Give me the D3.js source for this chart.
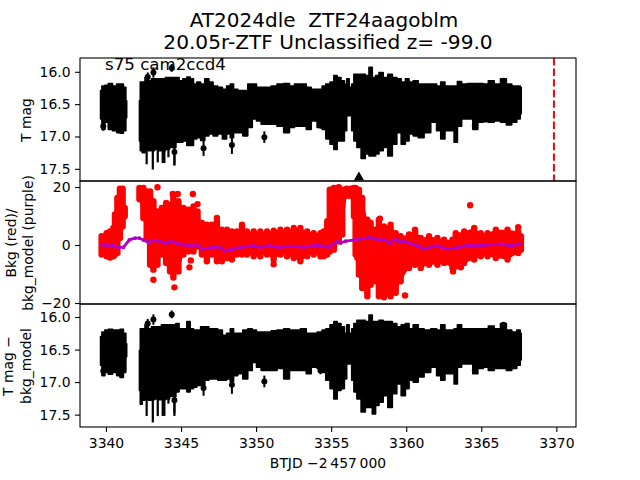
<!DOCTYPE html>
<html><head><meta charset="utf-8">
<script src="https://cdn.jsdelivr.net/npm/d3@7"></script>
<style>html,body{margin:0;padding:0;background:#fff}svg{display:block}text{font-family:"DejaVu Sans",sans-serif;fill:#000;white-space:pre}</style>
</head><body><div id="c"></div>
<script>
// Black band: T mag envelope against BTJD - 2457000
const timeBand = [
3339.64,3339.82,3340.04,3340.27,3340.60,3340.82,3341.05,3341.27,3341.38,
3342.23,3342.34,3342.49,3342.71,3342.94,3343.12,3343.34,3343.56,3343.83,3344.09,
3344.38,3344.56,3344.76,3344.98,3345.27,3345.50,3345.72,3345.94,3346.16,3346.45,
3346.72,3346.99,3347.28,3347.61,3347.90,3348.17,3348.39,3348.61,3348.95,3349.28,
3349.61,3349.88,3350.17,3350.50,3350.84,3351.17,3351.62,3352.06,3352.39,3352.73,
3353.17,3353.51,3353.84,3354.29,3354.51,3354.78,3355.07,3355.29,3355.51,3355.80,
3355.96,3356.11,3356.29,3356.45,3356.58,3356.85,3357.14,3357.41,3357.63,3357.85,
3358.07,3358.30,3358.63,3358.92,3359.23,3359.52,3359.81,3360.08,3360.30,3360.63,
3360.97,3361.41,3361.86,3362.19,3362.41,3362.75,3363.08,3363.30,3363.52,3363.86,
3364.30,3364.57,3364.97,3365.30,3365.64,3366.08,3366.48,3366.86,3367.20,3367.53,3367.66];
const magTop = [
16.29,16.22,16.21,16.18,16.22,16.19,16.19,16.24,16.45,
16.45,16.16,16.16,16.09,16.14,16.11,16.11,16.11,16.11,16.09,
16.09,16.09,16.09,16.14,16.11,16.08,16.11,16.19,16.16,16.19,
16.11,16.16,16.22,16.24,16.27,16.22,16.19,16.27,16.29,16.29,
16.19,16.19,16.24,16.24,16.24,16.22,16.19,16.18,16.22,16.19,
16.19,16.24,16.27,16.27,16.22,16.19,16.16,16.06,16.09,16.14,
16.19,16.11,16.24,16.19,16.04,16.04,16.04,16.06,15.93,16.09,
16.06,16.01,16.09,16.04,16.09,16.11,16.16,16.11,16.16,16.14,
16.19,16.19,16.19,16.22,16.16,16.22,16.22,16.22,16.15,16.19,
16.18,16.18,16.18,16.19,16.14,16.19,16.11,16.19,16.22,16.22,16.24];
const magBottom = [
16.73,16.89,16.78,16.89,16.91,16.94,16.95,16.91,16.71,
17.07,17.22,17.25,17.20,17.22,17.22,17.20,17.22,17.22,17.20,
17.17,17.17,17.09,17.09,17.07,17.14,17.14,17.04,17.02,17.06,
16.99,16.96,16.99,16.96,17.04,16.96,17.02,16.94,16.94,16.99,
16.86,16.73,16.76,16.81,16.81,16.81,16.84,16.94,16.86,16.84,
16.84,16.89,16.76,16.86,16.89,17.04,17.12,17.20,17.07,17.07,
16.91,16.68,16.68,16.91,17.07,17.17,17.34,17.27,17.30,17.30,
17.27,17.22,17.17,17.30,17.12,16.94,17.12,17.07,16.96,16.99,
17.02,16.94,16.78,16.91,17.04,16.91,16.91,17.09,16.84,16.73,
16.73,16.89,16.78,16.77,16.78,16.76,16.78,16.82,16.78,16.73,16.65];
const corrTop = [
16.30,16.23,16.20,16.19,16.20,16.20,16.19,16.25,16.41,
16.51,16.18,16.18,16.12,16.18,16.15,16.15,16.15,16.12,16.12,
16.12,16.12,16.10,16.18,16.18,16.07,16.18,16.20,16.20,16.15,
16.15,16.18,16.18,16.20,16.28,16.25,16.18,16.25,16.25,16.20,
16.18,16.20,16.23,16.23,16.23,16.21,16.20,16.18,16.20,16.20,
16.18,16.25,16.25,16.23,16.20,16.18,16.12,16.07,16.10,16.15,
16.25,16.12,16.25,16.18,16.10,16.05,16.05,16.07,15.97,16.07,
16.07,16.05,16.07,16.07,16.10,16.15,16.12,16.10,16.18,16.12,
16.18,16.20,16.18,16.20,16.12,16.20,16.20,16.18,16.12,16.18,
16.18,16.18,16.18,16.18,16.14,16.18,16.10,16.20,16.23,16.20,16.25];
const corrBottom = [
16.74,16.90,16.85,16.88,16.85,16.90,16.93,16.85,16.61,
17.13,17.34,17.28,17.26,17.28,17.27,17.26,17.27,17.27,17.26,
17.22,17.22,17.15,17.10,17.10,17.15,17.10,17.08,17.05,17.05,
16.97,16.95,16.95,16.97,16.97,16.95,16.99,16.90,16.87,16.95,
16.82,16.70,16.77,16.82,16.82,16.82,16.79,16.95,16.82,16.82,
16.82,16.87,16.77,16.79,16.85,16.97,17.10,17.26,17.13,17.10,
16.95,16.72,16.72,16.97,17.15,17.26,17.46,17.39,17.39,17.49,
17.36,17.31,17.21,17.39,17.18,17.03,17.21,17.10,16.97,17.00,
16.92,16.85,16.77,16.90,16.97,16.87,16.87,17.03,16.77,16.72,
16.72,16.87,16.79,16.77,16.82,16.79,16.79,16.82,16.79,16.74,16.66];

// Long faint-point error-bar spikes dropping below the band
const spikeTime = [3342.71,3343.12,3343.45,3343.78,3343.89,3344.16,3344.56];
const spikeMag  = [17.43,17.51,17.40,17.41,17.41,17.32,17.45];
const spikeCorr = [17.52,17.62,17.52,17.52,17.52,17.33,17.52];

// Isolated points with error bars
const outlierTime = [3339.82,3342.78,3343.16,3344.38,3344.56,3346.50,3348.39,3350.55,3354.29,3364.57,3366.48];
const outlierMag  = [16.84,16.08,16.01,15.94,17.24,17.18,17.13,17.01,16.82,16.83,16.14];
const outlierCorr = [16.83,16.10,16.04,15.96,17.28,17.09,17.04,16.99,16.82,16.82,16.12];
const outlierErr  = [0.07,0.07,0.08,0.06,0.20,0.12,0.14,0.09,0.06,0.05,0.04];

// Red band: background centre-of-dot envelope
const timeBkg = [
3339.71,3340.04,3340.27,3340.49,3340.60,3340.76,3340.93,3341.11,3341.25,
3342.23,3342.49,3342.71,3342.94,3343.16,3343.43,3343.72,3344.01,3344.27,3344.49,
3344.83,3345.16,3345.50,3345.83,3346.10,3346.39,3346.72,3347.05,3347.39,3347.72,
3348.06,3348.39,3348.72,3349.06,3349.39,3349.84,3350.28,3350.73,3351.17,3351.62,
3352.06,3352.51,3352.95,3353.40,3353.84,3354.29,3354.51,3354.74,3354.91,3355.18,
3355.51,3355.74,3356.03,3356.29,3356.52,3356.63,3356.85,3357.07,3357.41,3357.63,
3357.96,3358.18,3358.52,3358.96,3359.30,3359.63,3360.19,3360.59,3360.97,3361.52,
3362.08,3362.52,3363.08,3363.30,3363.86,3364.53,3364.97,3365.42,3365.97,3366.75,3367.46,3367.64];
const bkgTop = [
3.0,4.1,4.7,5.9,10.5,16.2,19.4,19.4,12.8,
19.7,19.7,18.5,18.5,15.1,11.6,12.8,14.5,13.9,16.8,
15.1,12.8,12.2,13.3,11.6,7.6,7.0,7.0,8.2,5.3,
5.3,4.7,4.7,7.0,4.7,4.7,4.7,4.7,4.9,5.3,
5.3,5.9,5.9,4.7,4.1,4.1,4.7,8.2,19.1,19.7,
19.9,19.1,19.4,19.4,19.7,19.7,19.1,16.2,8.7,7.6,
5.3,8.7,6.4,7.0,4.1,3.0,3.6,5.3,2.4,3.0,
2.4,1.8,1.8,4.1,4.7,5.9,4.1,4.1,5.3,5.3,4.7,3.0];
const bkgBottom = [
-3.3,-3.9,-4.3,-3.9,-3.3,-2.8,2.4,6.4,9.9,
15.8,9.3,2.4,-6.8,-8.5,-6.8,-3.3,-6.2,-9.1,-11.2,
-9.1,-3.3,-2.2,-2.2,-0.5,-3.3,-5.6,-3.3,-5.6,-5.6,
-4.5,-5.0,-3.3,-3.3,-3.3,-3.9,-3.9,-3.3,-5.0,-3.3,
-3.9,-4.5,-5.6,-3.9,-3.3,-3.9,-3.9,-3.3,-2.2,-1.6,
1.3,3.6,17.0,17.0,9.9,-3.3,-10.2,-14.8,-17.7,-13.7,
-12.5,-17.7,-18.0,-17.7,-16.5,-12.5,-7.9,-6.8,-7.9,-6.8,
-6.8,-6.2,-7.9,-7.4,-6.2,-5.0,-3.9,-3.9,-4.5,-5.0,-2.8,-1.6];
const bkgDotTime = [3343.43,3343.16,3344.56,3345.56,3345.65,3345.79,3344.45,3344.78,3346.10,3347.39,3351.17,3364.26,3358.25,3359.92,3363.12,3363.64,3356.74,3367.46];
const bkgDotValue = [19.9,-12.0,-14.6,-7.7,-5.3,17.6,17.6,17.6,14.1,9.3,-6.6,13.7,9.1,-17.4,-9.1,-7.7,-4.3,6.1];

// Purple background model
const modelTime = [3339.71,3340.04,3340.49,3340.82,3341.16,3341.56,3341.94,3342.23,3342.49,3342.83,3343.27,3343.72,3344.01,3344.32,3344.72,3345.16,3345.61,3346.05,3346.45,3346.94,3347.50,3347.94,3348.39,3348.95,3349.84,3350.28,3350.95,3351.50,3352.28,3353.17,3353.84,3354.29,3354.85,3355.40,3355.63,3355.96,3356.52,3356.96,3357.63,3358.07,3358.52,3358.92,3359.30,3359.52,3359.85,3360.74,3361.19,3361.97,3362.75,3363.41,3364.08,3364.97,3366.31,3366.97,3367.57];
const modelValue = [0.1,-0.1,-0.2,-0.8,-0.8,1.8,2.4,2.4,1.7,0.9,1.6,1.0,0.6,1.3,0.7,0.1,-0.4,0.1,-1.4,-1.0,-0.6,-2.0,-1.5,-0.8,-0.2,-0.8,-0.2,-0.8,-0.5,-0.7,-0.2,-0.2,-0.8,1.3,0.7,1.3,1.7,2.1,2.6,1.8,1.8,0.7,2.1,1.0,1.3,-0.3,-1.3,-0.3,-1.3,-1.0,-0.1,-0.2,0.3,-0.3,0.3];

const xTicks = [3340,3345,3350,3355,3360,3365,3370];
const magTicks = [16.0,16.5,17.0,17.5];
const bkgTicks = [-20,0,20];
const peakTime = [3369.84];
const triangleTime = [3356.85];
const triangleMag = [17.63];
const titleLines = ["AT2024dle  ZTF24aagoblm","20.05r-ZTF Unclassified z= -99.0"];
const annotation = "s75 cam2ccd4";

const W=640,H=480,L=80,R=576;
const P=[[58,181],[181,304],[304,427]];
const svg=d3.select("#c").append("svg").attr("width",W).attr("height",H);
const x=d3.scaleLinear().domain([3338.27,3371.31]).range([L,R]);
const y1=d3.scaleLinear().domain([15.787,17.688]).range([P[0][0],P[0][1]]);
const y2=d3.scaleLinear().domain([-20.34,22.07]).range([P[1][1],P[1][0]]);
const y3=d3.scaleLinear().domain([15.80,17.69]).range([P[2][0],P[2][1]]);

["c0","c1","c2"].forEach((id,i)=>{
  svg.append("clipPath").attr("id",id).append("rect").attr("x",L).attr("y",P[i][0]).attr("width",R-L).attr("height",P[i][1]-P[i][0]);
});

function blackBand(g,ys,top,bot){
  const rows=timeBand.map((t,i)=>({t,a:top[i],b:bot[i]}));
  const area=d3.area().curve(d3.curveStep).x(d=>x(d.t)).y0(d=>ys(d.a)).y1(d=>ys(d.b));
  [rows.filter(d=>d.t<3342),rows.filter(d=>d.t>=3342)].forEach(s=>
    g.append("path").attr("d",area(s)).attr("fill","#000").attr("stroke","#000").attr("stroke-width",1.6).attr("stroke-linejoin","round"));
}
function redBand(g){
  const rows=timeBkg.map((t,i)=>({t,a:bkgTop[i],b:bkgBottom[i]}));
  const area=d3.area().x(d=>x(d.t)).y0(d=>y2(d.a)).y1(d=>y2(d.b));
  [rows.filter(d=>d.t<3342),rows.filter(d=>d.t>=3342)].forEach(s=>g.append("path").attr("d",area(s)).attr("fill","#f00"));
  g.selectAll(null).data(rows).join("line")
    .attr("x1",d=>x(d.t)).attr("x2",d=>x(d.t)).attr("y1",d=>y2(d.a)).attr("y2",d=>y2(d.b))
    .attr("stroke","#f00").attr("stroke-width",6.4).attr("stroke-linecap","round");
}
function spikes(g,ys,base,vals){
  g.selectAll(null).data(spikeTime).join("line").attr("x1",d=>x(d)).attr("x2",d=>x(d))
    .attr("y1",(d,i)=>ys(base)).attr("y2",(d,i)=>ys(vals[i])).attr("stroke","#000").attr("stroke-width",2.2);
}
function outliers(g,ys,vals){
  const rows=outlierTime.map((t,i)=>({t,v:vals[i],e:outlierErr[i]}));
  g.selectAll(null).data(rows).join("line").attr("x1",d=>x(d.t)).attr("x2",d=>x(d.t))
    .attr("y1",d=>ys(d.v-d.e)).attr("y2",d=>ys(d.v+d.e)).attr("stroke","#000").attr("stroke-width",2);
  g.selectAll(null).data(rows).join("circle").attr("cx",d=>x(d.t)).attr("cy",d=>ys(d.v)).attr("r",3).attr("fill","#000");
}

const g1=svg.append("g").attr("clip-path","url(#c0)");
blackBand(g1,y1,magTop,magBottom);
spikes(g1,y1,17.0,spikeMag);
outliers(g1,y1,outlierMag);
g1.selectAll(null).data(peakTime).join("line").attr("x1",d=>x(d)).attr("x2",d=>x(d))
  .attr("y1",P[0][0]).attr("y2",P[0][1]).attr("stroke","#f00").attr("stroke-width",2).attr("stroke-dasharray","7.4,3.2");
svg.selectAll(null).data(triangleTime).join("path")
  .attr("d",d3.symbol(d3.symbolTriangle,44)).attr("fill","#000")
  .attr("transform",(d,i)=>`translate(${x(d)},${y1(triangleMag[i])})`);

const g2=svg.append("g").attr("clip-path","url(#c1)");
redBand(g2);
g2.selectAll(null).data(bkgDotTime).join("circle").attr("cx",d=>x(d)).attr("cy",(d,i)=>y2(bkgDotValue[i])).attr("r",3.2).attr("fill","#f00");
const modelRows=modelTime.map((t,i)=>[t,modelValue[i]]);
g2.append("path").attr("d",d3.line().x(d=>x(d[0])).y(d=>y2(d[1]))(modelRows)).attr("fill","none").attr("stroke","#b000c4").attr("stroke-width",2.8);
g2.selectAll(null).data(modelRows).join("circle").attr("cx",d=>x(d[0])).attr("cy",d=>y2(d[1])).attr("r",1.9).attr("fill","#b000c4");

const g3=svg.append("g").attr("clip-path","url(#c2)");
blackBand(g3,y3,corrTop,corrBottom);
spikes(g3,y3,17.0,spikeCorr);
outliers(g3,y3,outlierCorr);

// frames and axes
P.forEach(p=>svg.append("rect").attr("x",L).attr("y",p[0]).attr("width",R-L).attr("height",p[1]-p[0]).attr("fill","none").attr("stroke","#000").attr("stroke-width",1.1));
const minus=s=>s.replace("-","\u2212");
function yAxis(scale,ticks,fmt){
  const g=svg.append("g").attr("transform",`translate(${L},0)`)
   .call(d3.axisLeft(scale).tickValues(ticks).tickSize(5).tickSizeOuter(0).tickPadding(4.5).tickFormat(fmt));
  g.select(".domain").remove();
  g.selectAll("line").attr("stroke","#000").attr("stroke-width",1.1);
  g.selectAll("text").style("font-size","13.9px").style("font-family","DejaVu Sans").attr("fill","#000");
}
yAxis(y1,magTicks,d3.format(".1f"));
yAxis(y2,bkgTicks,d=>minus(String(d)));
yAxis(y3,magTicks,d3.format(".1f"));
const gx=svg.append("g").attr("transform",`translate(0,${P[2][1]})`)
  .call(d3.axisBottom(x).tickValues(xTicks).tickSize(5).tickSizeOuter(0).tickPadding(6).tickFormat(d3.format("d")));
gx.select(".domain").remove();
gx.selectAll("line").attr("stroke","#000").attr("stroke-width",1.1);
gx.selectAll("text").style("font-size","13.9px").style("font-family","DejaVu Sans").attr("fill","#000");

function txt(s,px,py,size,anchor,rot){
  const t=svg.append("text").attr("font-size",size).attr("text-anchor",anchor||"middle").text(s);
  if(rot) t.attr("transform",`translate(${px},${py}) rotate(-90)`); else t.attr("x",px).attr("y",py);
}
txt(titleLines[0],324,27,"20px");
txt(titleLines[1],328,49,"20.15px");
txt(annotation,105,70,"16.67px","start");
txt("T mag",31,120,"13.9px","middle",true);
txt("Bkg (red)/",16,243,"13.9px","middle",true);
txt("bkg_model (purple)",33,243,"13.9px","middle",true);
txt("T mag \u2212",13,366,"13.9px","middle",true);
txt("bkg_model",31,366,"13.9px","middle",true);
txt("BTJD \u22122\u2009457\u2009000",328,468,"13.9px");
</script></body></html>
